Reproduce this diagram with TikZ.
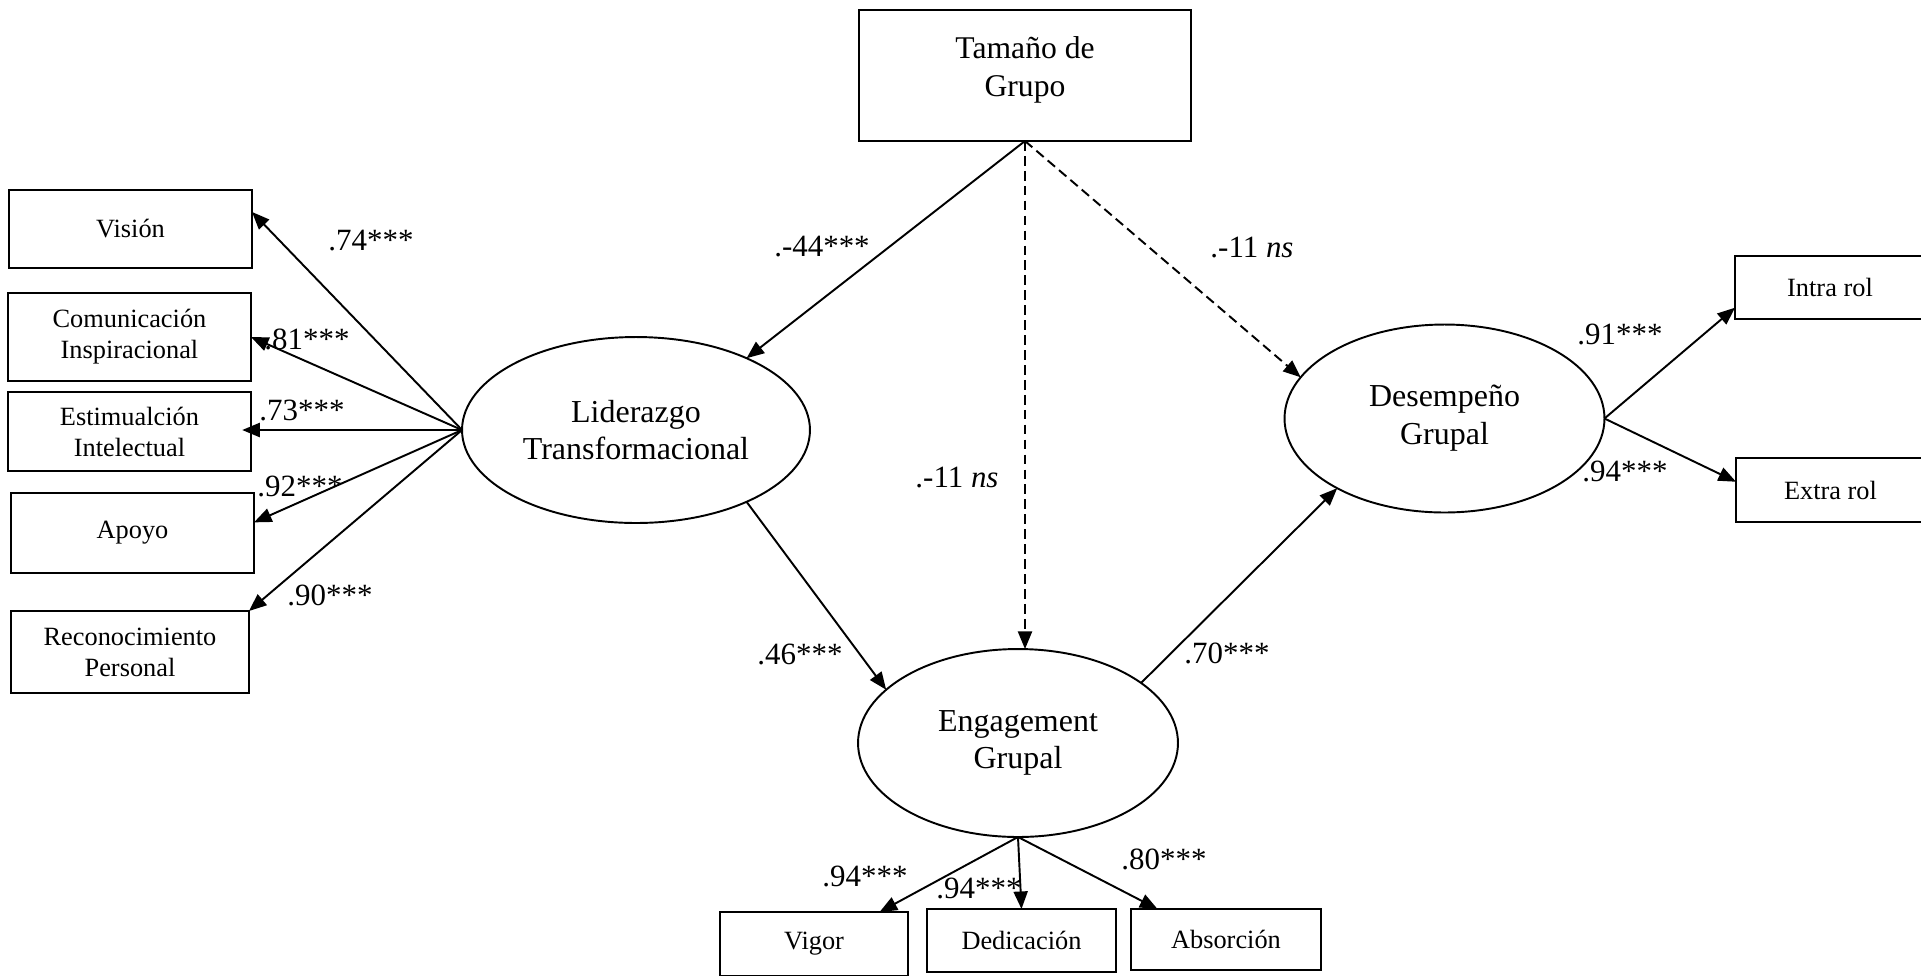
\documentclass[tikz,border=0pt]{standalone}
\usepackage{fontspec}
\setmainfont{Liberation Serif}
\usetikzlibrary{arrows.meta,shapes.geometric}

\tikzset{
  obs/.style={draw, rectangle, line width=1.1pt, inner sep=0pt, outer sep=0pt, align=center, font=\fontsize{15}{17.6}\selectfont},
  lat/.style={draw, ellipse, line width=1.1pt, inner sep=0pt, outer sep=0pt, align=center, font=\fontsize{18.2}{21.5}\selectfont},
  big/.style={font=\fontsize{18}{21.5}\selectfont},
  flecha/.style={line width=1.1pt, -{Triangle[length=10pt,width=8pt]}},
  nsflecha/.style={flecha, dash pattern=on 5.5pt off 3pt},
  coef/.style={inner sep=0pt, font=\fontsize{17.6}{21.5}\selectfont}
}

\begin{document}
\begin{tikzpicture}[x=0.02cm, y=-0.02cm]
    \useasboundingbox (0,0) rectangle (1921,975);

    \node[obs, big, text depth=10pt, minimum width=6.64cm, minimum height=2.62cm] (tam) at (1025,75.5) {Tamaño de\\Grupo};

    \node[lat, minimum width=6.96cm, minimum height=3.72cm] (lid) at (636,430) {Liderazgo\\Transformacional};
    \node[lat, minimum width=6.4cm, minimum height=3.76cm] (eng) at (1018,743) {Engagement\\Grupal};
    \node[lat, minimum width=6.4cm, minimum height=3.76cm] (des) at (1444.5,418.5) {Desempeño\\Grupal};

    \node[obs, minimum width=4.86cm, minimum height=1.56cm] (vis) at (130.5,229) {Visión};
    \node[obs, minimum width=4.86cm, minimum height=1.76cm] (com) at (129.5,337) {Comunicación\\Inspiracional};
    \node[obs, minimum width=4.86cm, minimum height=1.58cm] (est) at (129.5,431.5) {Estimualción\\Intelectual};
    \node[obs, minimum width=4.86cm, minimum height=1.6cm] (apo) at (132.5,533) {Apoyo};
    \node[obs, line width=0.6pt, minimum width=4.76cm, minimum height=1.64cm] (rec) at (130,652) {Reconocimiento\\Personal};

    \node[obs, minimum width=3.8cm, minimum height=1.26cm] (intra) at (1830,287.5) {Intra rol};
    \node[obs, minimum width=3.78cm, minimum height=1.28cm] (extra) at (1830.5,490) {Extra rol};

    \node[obs, minimum width=3.76cm, minimum height=1.28cm] (vig) at (814,944) {Vigor};
    \node[obs, minimum width=3.78cm, minimum height=1.26cm] (ded) at (1021.5,940.5) {Dedicación};
    \node[obs, minimum width=3.8cm, minimum height=1.22cm] (abs) at (1226,939.5) {Absorción};

    % paths
    \draw[flecha] (tam.south) -- (lid.33);
    \draw[nsflecha] (tam.south) -- (des.164);
    \draw[nsflecha] (tam.south) -- (tam.south |- eng.north);
    \draw[flecha] (lid.-33) -- (eng.158);
    \draw[flecha] (eng.26) -- (des.213);

    % loadings
    \draw[flecha] (lid.west) -- (vis.8);
    \draw[flecha] (lid.west) -- (com.east);
    \draw[flecha, shorten >=-5pt] (lid.west) -- (lid.west -| est.east);
    \draw[flecha] (lid.west) -- (apo.5);
    \draw[flecha] (lid.west) -- (rec.north east);
    \draw[flecha] (eng.south) -- (vig.26);
    \draw[flecha] (eng.south) -- (ded.north);
    \draw[flecha] (eng.south) -- (abs.156);
    \draw[flecha] (des.east) -- (intra.192);
    \draw[flecha] (des.east) -- (extra.175);

    \node[coef] (cvis) at (371,241) {.74***};
    \node[coef] (ccom) at (307,339) {.81***};
    \node[coef] (cest) at (302,410) {.73***};
    \node[coef] (capo) at (300,486) {.92***};
    \node[coef] (crec) at (330,595) {.90***};
    \node[coef] (ctl) at (822,247) {.-44***};
    \node[coef] (ctd) at (1252,248) {.-11 \textit{ns}};
    \node[coef] (cte) at (957,478) {.-11 \textit{ns}};
    \node[coef] (cle) at (800,654) {.46***};
    \node[coef] (ced) at (1227,653) {.70***};
    \node[coef] (cvig) at (865,876) {.94***};
    \node[coef] (cded) at (979,888) {.94***};
    \node[coef] (cabs) at (1164,859) {.80***};
    \node[coef] (cintra) at (1620,334) {.91***};
    \node[coef] (cextra) at (1625,471) {.94***};
\end{tikzpicture}
\end{document}
